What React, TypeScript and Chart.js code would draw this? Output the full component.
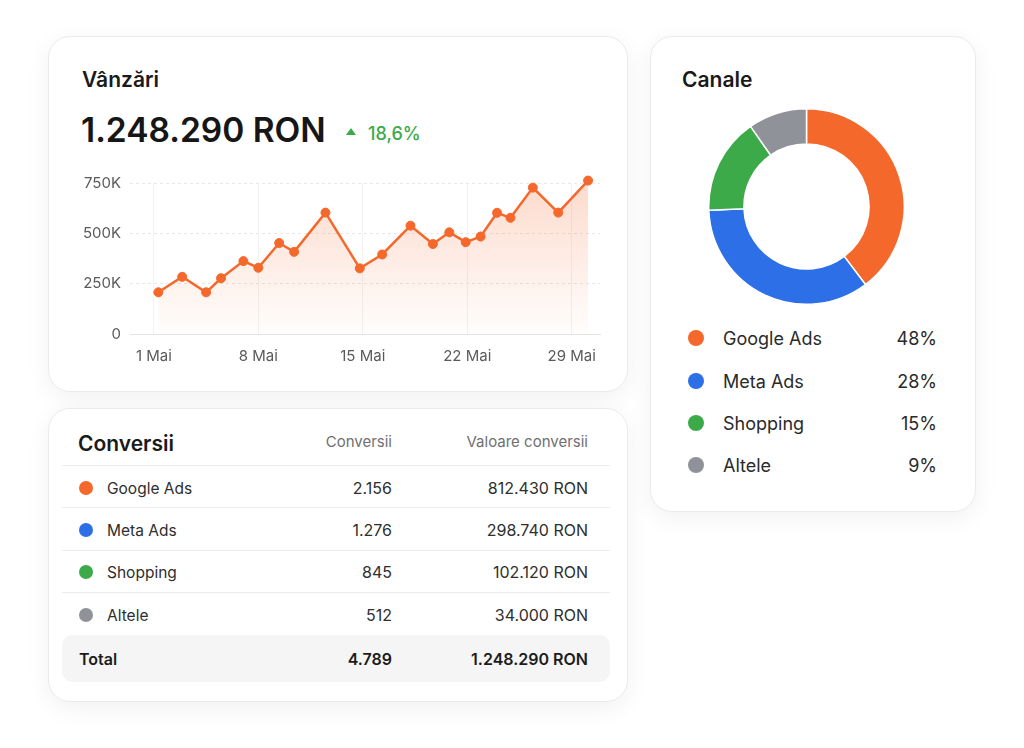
import React, { useEffect, useRef } from "react";
import { Chart, registerables } from "chart.js";

Chart.register(...registerables);

const FONT = "Inter, 'Noto Sans', 'DejaVu Sans', sans-serif";

// Sales line (day of May, value in thousands RON)
const saleDays = [1.3, 2.9, 4.5, 5.5, 7.0, 8.0, 9.4, 10.4, 12.5, 14.8, 16.3, 18.2, 19.7, 20.8, 21.9, 22.9, 24.0, 24.9, 26.4, 28.1, 30.1];
const salesK = [207, 284, 207, 277, 362, 329, 452, 408, 603, 326, 395, 538, 447, 505, 456, 484, 602, 577, 727, 603, 762];
const xTickDays = [1, 8, 15, 22, 29];
const yTickValues = [0, 250, 500, 750];

// Channels
const channels = ["Google Ads", "Meta Ads", "Shopping", "Altele"];
const channelColors = ["#F4682C", "#2D6FE6", "#3DAA4A", "#8F9298"];
const channelSlices = [39.7, 34.7, 15.9, 9.7];
const channelShareLabels = ["48%", "28%", "15%", "9%"];

// Conversions table
const conversions = ["2.156", "1.276", "845", "512"];
const conversionValues = ["812.430 RON", "298.740 RON", "102.120 RON", "34.000 RON"];
const totalConversions = "4.789";
const totalValue = "1.248.290 RON";
const headline = "1.248.290 RON";
const growth = "18,6%";

const ORANGE = channelColors[0];

function LineChart() {
  const ref = useRef<HTMLCanvasElement | null>(null);
  useEffect(() => {
    if (!ref.current) return;
    const chart = new Chart(ref.current, {
      type: "line",
      data: {
        datasets: [
          {
            data: saleDays.map((d, i) => ({ x: d, y: salesK[i] })),
            borderColor: ORANGE,
            borderWidth: 2.5,
            pointRadius: 4.5,
            pointBackgroundColor: ORANGE,
            pointBorderColor: ORANGE,
            pointBorderWidth: 1,
            tension: 0,
            fill: "origin",
            clip: false as any,
            backgroundColor: (ctx: any) => {
              const c = ctx.chart;
              const area = c.chartArea;
              if (!area) return "rgba(244,104,44,0.15)";
              const g = c.ctx.createLinearGradient(0, area.top, 0, area.bottom);
              g.addColorStop(0, "rgba(244,104,44,0.24)");
              g.addColorStop(1, "rgba(244,104,44,0.01)");
              return g;
            },
          },
        ],
      },
      options: {
        animation: false,
        responsive: true,
        maintainAspectRatio: false,
        layout: { padding: { top: 15.7, right: 10, left: 0, bottom: 0 } },
        plugins: { legend: { display: false }, tooltip: { enabled: false } },
        scales: {
          x: {
            type: "linear",
            min: -0.6,
            max: 30.9,
            afterBuildTicks: (s: any) => {
              s.ticks = xTickDays.map((v) => ({ value: v }));
            },
            afterFit: (s: any) => {
              s.height = 40;
            },
            ticks: {
              callback: (v: any) => `${v} Mai`,
              color: "#5a5a5a",
              font: { family: FONT, size: 15 },
              padding: 13,
              maxRotation: 0,
              autoSkip: false,
            },
            grid: { color: "#f2f2f2", drawTicks: false, lineWidth: 1 },
            border: { display: true, color: "#e4e4e4", width: 1 },
          },
          y: {
            min: 0,
            max: 750,
            afterBuildTicks: (s: any) => {
              s.ticks = yTickValues.map((v) => ({ value: v }));
            },
            afterFit: (s: any) => {
              s.width = 50;
            },
            ticks: {
              callback: (v: any) => (v === 0 ? "0" : `${v}K`),
              color: "#5a5a5a",
              font: { family: FONT, size: 15 },
              padding: 9,
            },
            grid: { color: "#e8e8e8", drawTicks: false, lineWidth: 1 },
            border: { display: false, dash: [3, 3] },
          },
        },
      },
    });
    return () => chart.destroy();
  }, []);
  return (
    <div style={{ position: "absolute", left: 80, top: 165, width: 530, height: 209 }}>
      <canvas ref={ref} />
    </div>
  );
}

function DoughnutChart() {
  const ref = useRef<HTMLCanvasElement | null>(null);
  useEffect(() => {
    if (!ref.current) return;
    const chart = new Chart(ref.current, {
      type: "doughnut",
      data: {
        labels: channels,
        datasets: [
          {
            data: channelSlices,
            backgroundColor: channelColors,
            borderColor: "#ffffff",
            borderWidth: 1.5,
          },
        ],
      },
      options: {
        animation: false,
        responsive: true,
        maintainAspectRatio: false,
        cutout: "64%",
        layout: { padding: 0 },
        plugins: { legend: { display: false }, tooltip: { enabled: false } },
      },
    });
    return () => chart.destroy();
  }, []);
  return (
    <div style={{ position: "absolute", left: 708, top: 108, width: 197, height: 197 }}>
      <canvas ref={ref} />
    </div>
  );
}

const card = (left: number, top: number, width: number, height: number): React.CSSProperties => ({
  position: "absolute",
  left,
  top,
  width,
  height,
  boxSizing: "border-box",
  background: "#fff",
  borderRadius: 22,
  border: "1px solid #ebebeb",
  boxShadow: "0 6px 24px rgba(0,0,0,0.06)",
});

const abs = (s: React.CSSProperties): React.CSSProperties => ({ position: "absolute", whiteSpace: "nowrap", ...s });

function Row({ cy, h = 30, children, style }: { cy: number; h?: number; children: React.ReactNode; style?: React.CSSProperties }) {
  return (
    <div style={abs({ top: cy - h / 2, height: h, display: "flex", alignItems: "center", ...style })}>{children}</div>
  );
}

export default function App() {
  const legendY = [338, 381, 423, 465];
  const rowY = [488, 530, 572, 615];
  const sepY = [465, 507, 550, 592];
  return (
    <div
      style={{
        position: "fixed",
        left: 0,
        top: 0,
        width: 1024,
        height: 748,
        background: "#fff",
        fontFamily: FONT,
        color: "#1c1c1c",
        overflow: "hidden",
      }}
    >
      <div style={card(48, 36, 580, 356)} />
      <div style={card(650, 36, 326, 476)} />
      <div style={card(48, 408, 580, 294)} />

      {/* Sales card */}
      <Row cy={79.5} style={{ left: 82, fontSize: 21, fontWeight: 600, color: "#1a1a1a" }}>Vânzări</Row>
      <Row cy={130} h={44} style={{ left: 81, fontSize: 33.5, fontWeight: 600, color: "#161616" }}>
        {headline}
      </Row>
      <div
        style={abs({
          left: 346,
          top: 128,
          width: 0,
          height: 0,
          borderLeft: "5.5px solid transparent",
          borderRight: "5.5px solid transparent",
          borderBottom: "7px solid #3AAA48",
        })}
      />
      <Row cy={133.5} style={{ left: 368, fontSize: 18, fontWeight: 500, color: "#3AAA48" }}>{growth}</Row>
      <LineChart />

      {/* Channels card */}
      <Row cy={79} style={{ left: 682, fontSize: 21, fontWeight: 600, color: "#1a1a1a" }}>Canale</Row>
      <DoughnutChart />
      {channels.map((c, i) => (
        <React.Fragment key={c}>
          <div
            style={abs({
              left: 688,
              top: legendY[i] - 8,
              width: 16,
              height: 16,
              borderRadius: "50%",
              background: channelColors[i],
            })}
          />
          <Row cy={legendY[i]} style={{ left: 723, fontSize: 18, color: "#2a2a2a" }}>{c}</Row>
          <Row cy={legendY[i]} style={{ left: 837, width: 100, justifyContent: "flex-end", fontSize: 18, color: "#2a2a2a" }}>
            {channelShareLabels[i]}
          </Row>
        </React.Fragment>
      ))}

      {/* Conversions card */}
      <Row cy={443} style={{ left: 78, fontSize: 21, fontWeight: 600, color: "#1a1a1a" }}>Conversii</Row>
      <Row cy={441} style={{ left: 292, width: 100, justifyContent: "flex-end", fontSize: 15, color: "#707070" }}>Conversii</Row>
      <Row cy={441} style={{ left: 388, width: 200, justifyContent: "flex-end", fontSize: 15, color: "#707070" }}>
        Valoare conversii
      </Row>
      {sepY.map((y) => (
        <div key={y} style={abs({ left: 62, top: y, width: 548, height: 1, background: "#ededed" })} />
      ))}
      {channels.map((c, i) => (
        <React.Fragment key={"t" + c}>
          <div
            style={abs({
              left: 79,
              top: rowY[i] - 7,
              width: 14,
              height: 14,
              borderRadius: "50%",
              background: channelColors[i],
            })}
          />
          <Row cy={rowY[i]} style={{ left: 107, fontSize: 15.5, color: "#2e2e2e" }}>{c}</Row>
          <Row cy={rowY[i]} style={{ left: 292, width: 100, justifyContent: "flex-end", fontSize: 16, color: "#2e2e2e" }}>
            {conversions[i]}
          </Row>
          <Row cy={rowY[i]} style={{ left: 388, width: 200, justifyContent: "flex-end", fontSize: 16, color: "#2e2e2e" }}>
            {conversionValues[i]}
          </Row>
        </React.Fragment>
      ))}
      <div style={abs({ left: 62, top: 635, width: 548, height: 47, borderRadius: 10, background: "#f5f5f6" })} />
      <Row cy={659} style={{ left: 79, fontSize: 16, fontWeight: 600, color: "#1c1c1c" }}>Total</Row>
      <Row cy={659} style={{ left: 292, width: 100, justifyContent: "flex-end", fontSize: 16, fontWeight: 600, color: "#1c1c1c" }}>
        {totalConversions}
      </Row>
      <Row cy={659} style={{ left: 388, width: 200, justifyContent: "flex-end", fontSize: 16, fontWeight: 600, color: "#1c1c1c" }}>
        {totalValue}
      </Row>
    </div>
  );
}
